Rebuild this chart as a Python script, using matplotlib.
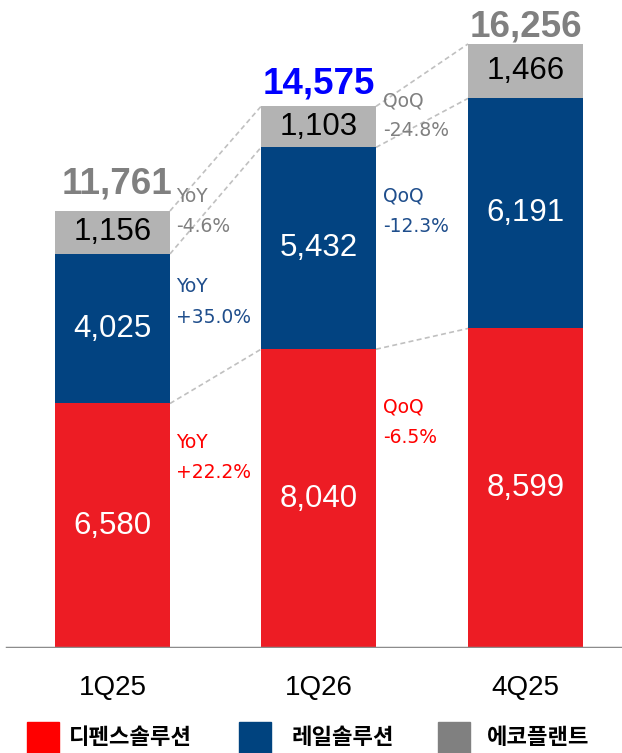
import matplotlib.pyplot as plt
from matplotlib.patches import Rectangle

# data
quarters = ["1Q25", "1Q26", "4Q25"]
defense = [6580, 8040, 8599]
rail = [4025, 5432, 6191]
eco = [1156, 1103, 1466]
totals = [11761, 14575, 16256]
total_colors = ["#808080", "#0000FF", "#808080"]
legend_names = ["디펜스솔루션", "레일솔루션", "에코플랜트"]

RED = "#ED1C24"
BLUE = "#024381"
GRAY = "#B3B3B3"

W, H = 622, 753
fig = plt.figure(figsize=(W / 100, H / 100), dpi=100)

# axes: baseline at 648px from top, bars centred at 112.5 / 317.5 / 524.5 px
base_px = 648
px_per_unit = 0.03716
ax = fig.add_axes([0, (H - base_px) / H, 1, base_px / H])
px_per_x = 206
ax.set_xlim(-112.5 / px_per_x, (W - 112.5) / px_per_x)
ax.set_ylim(0, base_px / px_per_unit)
ax.axis("off")

xs = [0, 1, 2.005]
width = 115 / px_per_x

ax.bar(xs, defense, width, color=RED, zorder=2)
ax.bar(xs, rail, width, bottom=defense, color=BLUE, zorder=2)
bot3 = [d + r for d, r in zip(defense, rail)]
ax.bar(xs, eco, width, bottom=bot3, color=GRAY, zorder=2)

num_font = "Liberation Sans"
# total label offsets (px): sideways, above bar top
tot_dx = [5, 0.5, 0]
tot_dy = [17, 13, 7]
for i, x in enumerate(xs):
    ax.text(x, defense[i] / 2, f"{defense[i]:,}",
            ha="center", va="center", color="white", fontsize=22.5, family=num_font)
    ax.text(x, defense[i] + rail[i] / 2, f"{rail[i]:,}",
            ha="center", va="center", color="white", fontsize=22.5, family=num_font)
    ax.text(x, bot3[i] + eco[i] / 2, f"{eco[i]:,}",
            ha="center", va="center", color="black", fontsize=22.5, family=num_font)
    ax.text(x + tot_dx[i] / px_per_x, totals[i] + tot_dy[i] / px_per_unit,
            f"{totals[i]:,}", ha="center", va="baseline",
            color=total_colors[i], fontsize=26.5, fontweight="bold", family=num_font)

# dashed connectors between segment boundaries
levels = [defense, bot3, totals]
for lv in levels:
    for i in range(len(xs) - 1):
        ax.plot([xs[i] + width / 2, xs[i + 1] - width / 2], [lv[i], lv[i + 1]],
                ls=(0, (3, 2)), color="#C0C0C0", lw=1.2, zorder=1)

ax.axhline(0, xmin=7 / W, xmax=1, color="#8C8C8C", lw=2.5, zorder=3)

# change annotations (left px, centre px of first line)
ann_font = ["DejaVu Sans"]
notes = [
    (176, 196, "YoY", "-4.6%", "#808080"),
    (176, 287, "YoY", "+35.0%", "#1F4E8C"),
    (176, 442, "YoY", "+22.2%", "#FF0000"),
    (383, 101, "QoQ", "-24.8%", "#808080"),
    (383, 196, "QoQ", "-12.3%", "#1F4E8C"),
    (383, 407, "QoQ", "-6.5%", "#FF0000"),
]
for px, py, l1, l2, c in notes:
    fig.text(px / W, 1 - py / H, l1, ha="left", va="center", color=c,
             fontsize=13.5, family=ann_font)
    fig.text(px / W, 1 - (py + 30) / H, l2, ha="left", va="center", color=c,
             fontsize=13.5, family=ann_font)

# category labels
for i, q in enumerate(quarters):
    cx = 112.5 + xs[i] * px_per_x
    fig.text(cx / W, 1 - 688 / H, q, ha="center", va="center", fontsize=20,
             family=num_font)

# legend
leg_colors = ["#FF0000", "#00437F", "#808080"]
leg_x = [27, 239, 438]
txt_x = [69, 292, 487]
for c, lx, tx, name in zip(leg_colors, leg_x, txt_x, legend_names):
    fig.add_artist(Rectangle((lx / W, 1 - 753 / H), 32 / W, 31 / H,
                             transform=fig.transFigure, color=c))
    fig.text(tx / W, 1 - 738 / H, name, ha="left", va="center", fontsize=16,
             fontweight="bold", family=["Noto Sans CJK KR", "DejaVu Sans"])

fig.savefig("out.png", dpi=100)
